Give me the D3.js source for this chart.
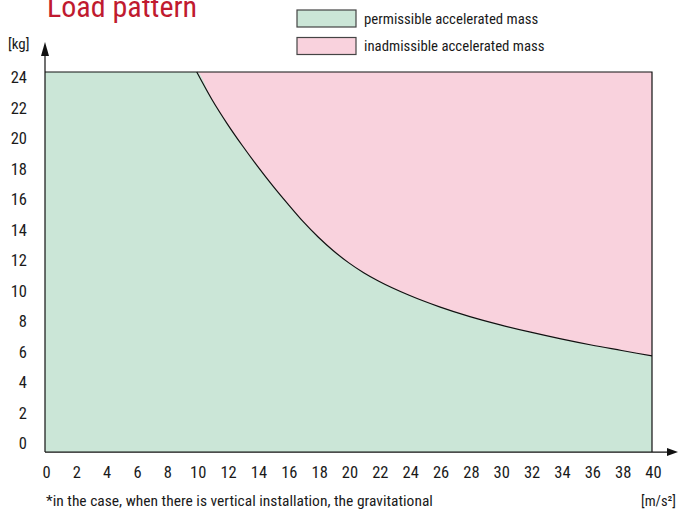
<!DOCTYPE html>
<html>
<head>
<meta charset="utf-8">
<script src="https://cdn.jsdelivr.net/npm/d3@7"></script>
<style>
  html, body { margin: 0; padding: 0; background: #fff; }
  svg { display: block; }
  text { font-family: "Liberation Sans Narrow", "Roboto Condensed", "DejaVu Sans Condensed", sans-serif; fill: #1a1a1a; }
</style>
</head>
<body>
<svg id="chart" width="678" height="513"></svg>
<script>
// ---- data ----
const title = "Load pattern";
const legendLabels = ["permissible accelerated mass", "inadmissible accelerated mass"];
const xTicks = d3.range(0, 41, 2);
const yTicks = d3.range(0, 25, 2);
const xDomain = [0, 40];
const yDomain = [0, 24];
const yFloor = -0.56;   // value at x-axis line
const yCeil = 24.36;    // value at top border (max mass)
// limit curve: acceleration [m/s²] -> max mass [kg]
const accel = [10, 11, 12, 13, 14, 15, 16, 17, 18, 19, 20, 21, 22, 24, 26, 28, 30, 32, 34, 36, 38, 40];
const mass  = [24.36, 22.56, 20.98, 19.54, 18.19, 16.91, 15.71, 14.56, 13.54, 12.64, 11.86, 11.20, 10.64, 9.72, 8.96, 8.32, 7.78, 7.30, 6.86, 6.46, 6.10, 5.74];
const yUnit = "[kg]";
const xUnit = "[m/s²]";
const footnote = "*in the case, when there is vertical installation, the gravitational";

const colors = { ok: "#cbe6d7", bad: "#f9d2dd", title: "#c01a2f" };

// ---- layout ----
const svg = d3.select("#chart");
const x = d3.scaleLinear().domain(xDomain).range([45, 652]);
const y = d3.scaleLinear().domain(yDomain).range([443.5, 77.5]);

const pts = accel.map((a, i) => ({ x: a, y: mass[i] }));
const full = [{ x: xDomain[0], y: yCeil }].concat(pts);

// pink region (whole plot)
svg.append("rect")
  .attr("x", x(xDomain[0])).attr("y", y(yCeil))
  .attr("width", x(xDomain[1]) - x(xDomain[0]))
  .attr("height", y(yFloor) - y(yCeil))
  .attr("fill", colors.bad);

// green region under curve
const area = d3.area().x(d => x(d.x)).y0(y(yFloor)).y1(d => y(d.y)).curve(d3.curveMonotoneX);
svg.append("path").datum(full).attr("d", area).attr("fill", colors.ok);

// curve
const line = d3.line().x(d => x(d.x)).y(d => y(d.y)).curve(d3.curveMonotoneX);
svg.append("path").datum(pts).attr("d", line)
  .attr("fill", "none").attr("stroke", "#111").attr("stroke-width", 1.2);

// borders top and right
svg.append("path")
  .attr("d", `M${x(xDomain[0])},${y(yCeil)}H${x(xDomain[1])}V${y(yFloor)}`)
  .attr("fill", "none").attr("stroke", "#111").attr("stroke-width", 1.2);

// axes lines with arrows
svg.append("line").attr("x1", x(0)).attr("x2", x(0)).attr("y1", y(yFloor)).attr("y2", 54)
  .attr("stroke", "#111").attr("stroke-width", 1.2);
svg.append("path").attr("d", `M${x(0)},42L${x(0)-4},56L${x(0)+4},56Z`).attr("fill", "#111");
svg.append("line").attr("x1", x(0)).attr("x2", 670).attr("y1", y(yFloor)).attr("y2", y(yFloor))
  .attr("stroke", "#111").attr("stroke-width", 1.2);
svg.append("path").attr("d", `M678,${y(yFloor)}L667,${y(yFloor)-4}L667,${y(yFloor)+4}Z`).attr("fill", "#111");

const tickFont = '"Liberation Sans Narrow", "Roboto Condensed", "DejaVu Sans Condensed", sans-serif';

// y tick labels
const yAxis = d3.axisLeft(y).tickValues(yTicks).tickSize(0).tickPadding(0);
const gy = svg.append("g").attr("transform", "translate(27,0)").call(yAxis);
gy.select(".domain").remove();
gy.selectAll("text").attr("font-size", 16.5).attr("fill", "#1a1a1a").style("font-family", tickFont);

// x tick labels
const xAxis = d3.axisBottom(x).tickValues(xTicks).tickSize(0).tickPadding(0);
const gx = svg.append("g").attr("transform", "translate(1,466)").call(xAxis);
gx.select(".domain").remove();
gx.selectAll("text").attr("font-size", 16.5).attr("fill", "#1a1a1a").style("font-family", tickFont);

// units
svg.append("text").attr("x", 8).attr("y", 49).attr("font-size", 15).text(yUnit);
svg.append("text").attr("x", 676).attr("y", 506).attr("text-anchor", "end").attr("font-size", 14.5).text(xUnit);

// footnote
svg.append("text").attr("x", 46).attr("y", 506).attr("font-size", 15.5).text(footnote);

// title
svg.append("text").attr("x", 47).attr("y", 17).attr("font-size", 30)
  .style("fill", colors.title).text(title);

// legend
const leg = svg.append("g");
legendLabels.forEach((lab, i) => {
  const ly = 10 + i * 27.5;
  leg.append("rect").attr("x", 297).attr("y", ly).attr("width", 59).attr("height", 17)
    .attr("fill", i === 0 ? colors.ok : colors.bad)
    .attr("stroke", "#444").attr("stroke-width", 1.2);
  leg.append("text").attr("x", 364).attr("y", ly + 13.5).attr("font-size", 14.8).text(lab);
});
</script>
</body>
</html>
